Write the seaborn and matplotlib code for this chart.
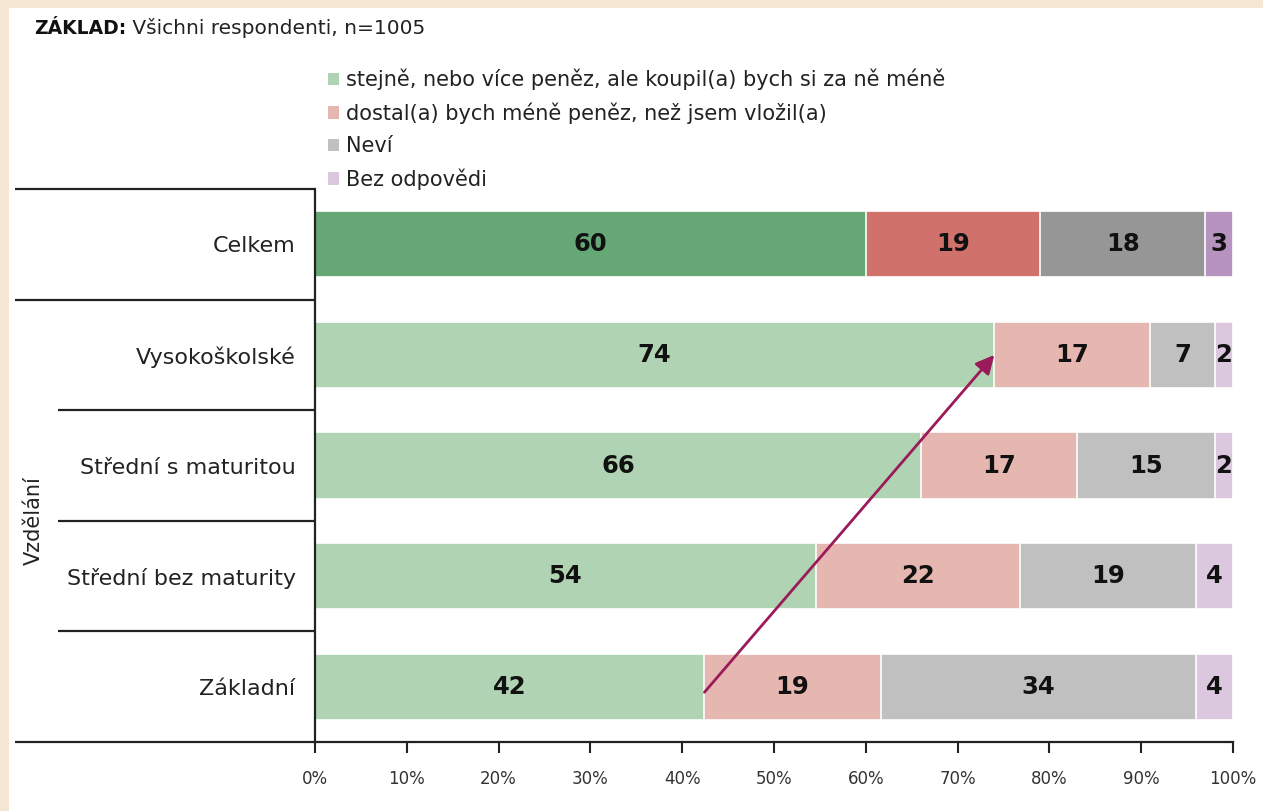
import matplotlib
matplotlib.use("Agg")
import matplotlib.pyplot as plt
import matplotlib.transforms as mtransforms
from matplotlib.patches import Patch, Rectangle
import seaborn as sns
import pandas as pd
import numpy as np

# ---------------- data ----------------
categories = ["Celkem", "Vysokoškolské", "Střední s maturitou", "Střední bez maturity", "Základní"]
series_names = [
    "stejně, nebo více peněz, ale koupil(a) bych si za ně méně",
    "dostal(a) bych méně peněz, než jsem vložil(a)",
    "Neví",
    "Bez odpovědi",
]
s_more = [60, 74, 66, 54, 42]
s_less = [19, 17, 17, 22, 19]
s_dk = [18, 7, 15, 19, 34]
s_na = [3, 2, 2, 4, 4]
x_ticks = [0, 10, 20, 30, 40, 50, 60, 70, 80, 90, 100]
x_tick_labels = [f"{t}%" for t in x_ticks]
group_label = "Vzdělání"
title_bold = "ZÁKLAD:"
title_rest = " Všichni respondenti, n=1005"

# colours: (total row, other rows)
dark_colors = ["#66A776", "#D0716B", "#969696", "#B794BF"]
light_colors = ["#B0D4B3", "#E6B6B0", "#C0C0C0", "#DCC8DE"]

# ---------------- figure ----------------
sns.set_theme(style="white")
plt.rcParams["font.family"] = ["DejaVu Sans"]

W, H = 1263, 811
fig = plt.figure(figsize=(W / 100, H / 100), dpi=100, facecolor="#F5E6D3")
fig.patches.append(Rectangle((9 / W, 0), 1, 1 - 8 / H, transform=fig.transFigure,
                             facecolor="white", edgecolor="none", zorder=-10))

ax = fig.add_axes([315 / W, 1 - 742 / H, 918 / W, 553 / H])
ax.set_facecolor("none")

vals = np.array([s_more, s_less, s_dk, s_na], dtype=float).T  # rows = categories
pct = vals / vals.sum(axis=1, keepdims=True) * 100
cum = np.cumsum(pct, axis=1)

for k in range(3, -1, -1):
    df = pd.DataFrame({"cat": categories, "cum": cum[:, k]})
    pal = {c: (dark_colors[k] if i == 0 else light_colors[k]) for i, c in enumerate(categories)}
    sns.barplot(data=df, x="cum", y="cat", hue="cat", palette=pal, order=categories,
                hue_order=categories, orient="h", width=0.6, edgecolor="white",
                linewidth=1.2, legend=False, ax=ax, saturation=1)

# value labels
for i, c in enumerate(categories):
    for k in range(4):
        start = cum[i, k] - pct[i, k]
        ax.text(start + pct[i, k] / 2, i, f"{int(vals[i, k])}", ha="center", va="center",
                fontsize=17.5, fontweight="bold", color="#111111")

ax.set_xlim(0, 100)
ax.set_ylim(4.5, -0.5)
ax.set_xlabel("")
ax.set_ylabel("")
ax.set_xticks(x_ticks)
ax.set_xticklabels(x_tick_labels, fontsize=12, color="#333333")
ax.tick_params(axis="x", direction="out", length=8, width=1.5, color="#222222", pad=12, bottom=True)
ax.tick_params(axis="y", length=0, pad=14, labelsize=16, labelcolor="#222222")
for s in ["top", "right"]:
    ax.spines[s].set_visible(False)
for s in ["left", "bottom"]:
    ax.spines[s].set_visible(True)
    ax.spines[s].set_color("#222222")
    ax.spines[s].set_linewidth(1.6)

# table-like separators on the left
trans = mtransforms.blended_transform_factory(ax.transAxes, ax.transData)
full_left = (15 - 315) / 918
inner_left = (58 - 315) / 918
for yb, xl in [(-0.5, full_left), (0.5, full_left), (1.5, inner_left), (2.5, inner_left),
               (3.5, inner_left), (4.5, full_left)]:
    ax.plot([xl, 0], [yb, yb], transform=trans, color="#222222", lw=1.6, clip_on=False,
            solid_capstyle="butt")

fig.text(34 / W, 1 - 521 / H, group_label, rotation=90, ha="center", va="center",
         fontsize=15, color="#222222")

# arrow from Základní to Vysokoškolské (end of first series)
ax.annotate("", xy=(pct[1, 0], 1.0), xytext=(pct[4, 0], 4.05),
            arrowprops=dict(arrowstyle="-|>", color="#9B1B5A", lw=2, mutation_scale=28,
                            shrinkA=0, shrinkB=0))

# title
t1 = fig.text(34 / W, 1 - 28 / H, title_bold, fontsize=13.5, fontweight="bold",
              ha="left", va="center", color="#111111")
ann = plt.annotate(title_rest, xy=(1, 0.5), xycoords=t1, ha="left", va="center",
                   fontsize=14.5, color="#222222", annotation_clip=False)
ann.remove()
fig.add_artist(ann)

# legend
handles = [Patch(facecolor=c, edgecolor="none") for c in light_colors]
fig.legend(handles, series_names, loc="upper left", bbox_to_anchor=(328 / W, 1 - 69 / H),
           frameon=False, fontsize=15, handlelength=0.55, handleheight=0.55,
           handletextpad=0.33, labelspacing=0.58, borderpad=0, borderaxespad=0,
           labelcolor="#222222")

fig.savefig("out.png", dpi=100, facecolor=fig.get_facecolor())
